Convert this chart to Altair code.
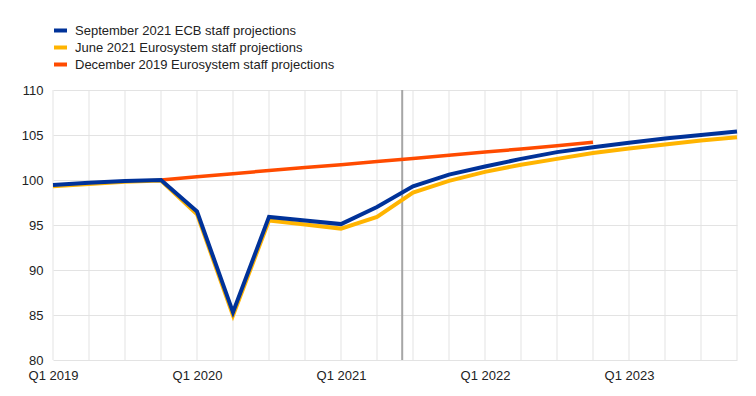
import altair as alt
import pandas as pd

# Quarter index: 0 = Q1 2019 ... 19 = Q4 2023
quarters = list(range(20))
sep2021 = [99.45, 99.7, 99.9, 100.0, 96.5, 85.3, 95.9, 95.5, 95.1, 97.0,
           99.3, 100.6, 101.5, 102.35, 103.1, 103.65, 104.15, 104.6, 105.0, 105.4]
jun2021 = [99.3, 99.55, 99.8, 99.95, 96.2, 84.95, 95.5, 95.05, 94.6, 95.9,
           98.6, 99.9, 100.9, 101.7, 102.35, 103.0, 103.5, 103.95, 104.4, 104.75]
dec2019_quarters = list(range(3, 16))
dec2019 = [100.0, 100.35, 100.7, 101.05, 101.4, 101.7, 102.05, 102.4,
           102.75, 103.1, 103.45, 103.8, 104.2]

series_names = ["September 2021 ECB staff projections",
                "June 2021 Eurosystem staff projections",
                "December 2019 Eurosystem staff projections"]
series_colors = ["#003299", "#FFB400", "#FF4B00"]
cutoff = [9.7]

df_sep = pd.DataFrame({"q": quarters, "v": sep2021, "s": series_names[0]})
df_jun = pd.DataFrame({"q": quarters, "v": jun2021, "s": series_names[1]})
df_dec = pd.DataFrame({"q": dec2019_quarters, "v": dec2019, "s": series_names[2]})

FONT = "Liberation Sans"

x_scale = alt.Scale(domain=[0, 19], nice=False, zero=False)
x_enc = alt.X("q:Q", scale=x_scale,
              axis=alt.Axis(values=quarters, title=None,
                            labelExpr="datum.value % 4 == 0 ? 'Q1 ' + (2019 + datum.value/4) : ''",
                            labelFlush=False, labelOverlap=False, ticks=False,
                            domain=False, grid=False, labelPadding=9))
y_enc = alt.Y("v:Q",
              scale=alt.Scale(domain=[80, 110], nice=False, zero=False),
              axis=alt.Axis(values=[80, 85, 90, 95, 100, 105, 110], title=None,
                            ticks=False, domain=False, grid=True,
                            gridColor="#e3e3e3", labelPadding=10))
color_enc = alt.Color("s:N",
                      scale=alt.Scale(domain=series_names, range=series_colors),
                      legend=alt.Legend(title=None, orient="none", legendX=-1,
                                        legendY=-68, direction="vertical",
                                        symbolType="stroke", symbolStrokeWidth=4,
                                        symbolSize=169, labelOffset=6,
                                        rowPadding=0, padding=0,
                                        labelFontSize=13, labelFont=FONT,
                                        labelColor="#222222", labelLimit=400))

grid = alt.Chart(pd.DataFrame({"q": quarters})).mark_rule(
    color="#e3e3e3", strokeWidth=1).encode(x=x_enc)
red = alt.Chart(df_dec).mark_line(strokeWidth=3.5).encode(x=x_enc, y=y_enc, color=color_enc)
yellow = alt.Chart(df_jun).mark_line(strokeWidth=4).encode(x=x_enc, y=y_enc, color=color_enc)
blue = alt.Chart(df_sep).mark_line(strokeWidth=4).encode(x=x_enc, y=y_enc, color=color_enc)
rule = alt.Chart(pd.DataFrame({"q": cutoff})).mark_rule(color="#a6a6a6", strokeWidth=2).encode(
    x=x_enc)

chart = alt.layer(grid, rule, red, yellow, blue).properties(
    width=684, height=270,
    autosize=alt.AutoSizeParams(type="none"),
    padding={"left": 45, "top": 82, "right": 10, "bottom": 30},
).configure_view(stroke=None).configure_axis(
    labelFont=FONT, labelFontSize=13, labelColor="#222222"
)

chart.save("out.html", embed_options={"renderer": "svg", "actions": False})
